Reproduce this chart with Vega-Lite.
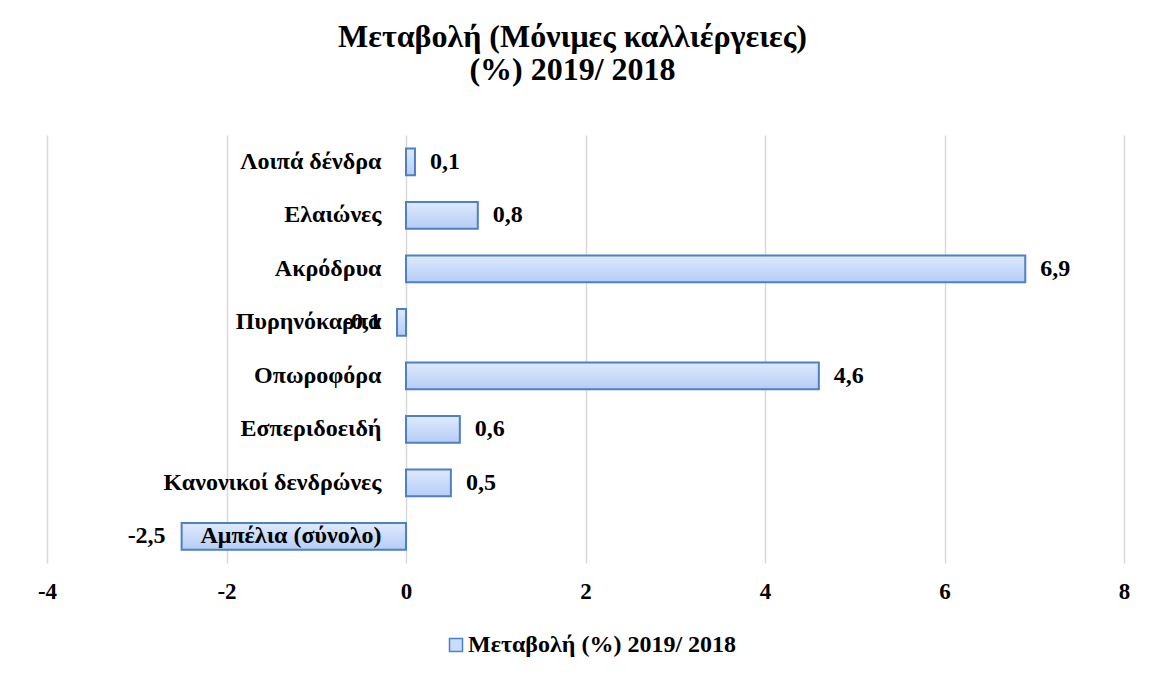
{
  "$schema": "https://vega.github.io/schema/vega-lite/v6.json",
  "autosize": {"type": "none"},
  "padding": {"left": 47, "top": 135, "right": 29, "bottom": 112},
  "width": 1077,
  "height": 428,
  "background": "white",
  "title": {
    "text": ["Μεταβολή (Μόνιμες καλλιέργειες)", "(%) 2019/ 2018"],
    "font": "Liberation Serif",
    "fontSize": 32,
    "fontWeight": "bold",
    "color": "#000000",
    "lineHeight": 33,
    "anchor": "middle",
    "dx": -13,
    "offset": 48
  },
  "data": {
    "values": [
      {"category": "Λοιπά δένδρα", "value": 0.1},
      {"category": "Ελαιώνες", "value": 0.8},
      {"category": "Ακρόδρυα", "value": 6.9},
      {"category": "Πυρηνόκαρπα", "value": -0.1},
      {"category": "Οπωροφόρα", "value": 4.6},
      {"category": "Εσπεριδοειδή", "value": 0.6},
      {"category": "Κανονικοί δενδρώνες", "value": 0.5},
      {"category": "Αμπέλια (σύνολο)", "value": -2.5}
    ]
  },
  "encoding": {
    "y": {
      "field": "category",
      "type": "nominal",
      "sort": null,
      "scale": {"paddingInner": 0.5, "paddingOuter": 0.25},
      "axis": {
        "title": null,
        "domain": false,
        "ticks": false,
        "grid": false,
        "offset": -359,
        "labelPadding": 25,
        "labelLimit": 0,
        "labelFont": "Liberation Serif",
        "labelFontSize": 24,
        "labelFontWeight": "bold",
        "labelColor": "#000000",
        "zindex": 2
      }
    }
  },
  "layer": [
    {
      "mark": {"type": "bar"},
      "encoding": {
        "x": {
          "field": "value",
          "type": "quantitative",
          "scale": {"domain": [-4, 8], "nice": false},
          "axis": {
            "title": null,
            "values": [-4, -2, 0, 2, 4, 6, 8],
            "format": "d",
            "domain": false,
            "ticks": false,
            "grid": true,
            "gridColor": "#d9d9d9",
            "gridWidth": 1.5,
            "labelFlush": false,
            "labelPadding": 17,
            "labelFont": "Liberation Serif",
            "labelFontSize": 23,
            "labelFontWeight": "bold",
            "labelColor": "#000000"
          }
        },
        "color": {
          "datum": "Μεταβολή (%) 2019/ 2018",
          "type": "nominal",
          "scale": {"range": ["#c9dcf9"]},
          "legend": {
            "title": null,
            "orient": "none",
            "legendX": 397,
            "legendY": 498,
            "symbolType": "square",
            "symbolSize": 169,
            "symbolStrokeColor": "#4f7fc4",
            "symbolStrokeWidth": 1.5,
            "labelLimit": 0,
            "labelFont": "Liberation Serif",
            "labelFontSize": 24,
            "labelFontWeight": "bold",
            "labelColor": "#000000",
            "labelOffset": 0
          }
        }
      }
    },
    {
      "mark": {
        "type": "bar",
        "stroke": "#4f7fc4",
        "strokeWidth": 2,
        "fill": {
          "gradient": "linear",
          "x1": 0, "y1": 0, "x2": 0, "y2": 1,
          "stops": [
            {"offset": 0, "color": "#dfeafc"},
            {"offset": 1, "color": "#b5cdf6"}
          ]
        }
      },
      "encoding": {
        "x": {"field": "value", "type": "quantitative"}
      }
    },
    {
      "transform": [{"filter": "datum.value >= 0"}],
      "mark": {
        "type": "text",
        "align": "left",
        "baseline": "middle",
        "dx": 15,
        "font": "Liberation Serif",
        "fontSize": 24,
        "fontWeight": "bold",
        "color": "#000000"
      },
      "encoding": {
        "x": {"field": "value", "type": "quantitative"},
        "text": {"field": "value", "type": "quantitative", "format": ".1f"}
      }
    },
    {
      "transform": [{"filter": "datum.value < 0"}],
      "mark": {
        "type": "text",
        "align": "right",
        "baseline": "middle",
        "dx": -16,
        "font": "Liberation Serif",
        "fontSize": 24,
        "fontWeight": "bold",
        "color": "#000000"
      },
      "encoding": {
        "x": {"field": "value", "type": "quantitative"},
        "text": {"field": "value", "type": "quantitative", "format": ".1f"}
      }
    }
  ],
  "config": {
    "view": {"stroke": null},
    "locale": {
      "number": {
        "decimal": ",",
        "thousands": ".",
        "grouping": [3],
        "currency": ["", " €"],
        "minus": "-"
      }
    }
  }
}
